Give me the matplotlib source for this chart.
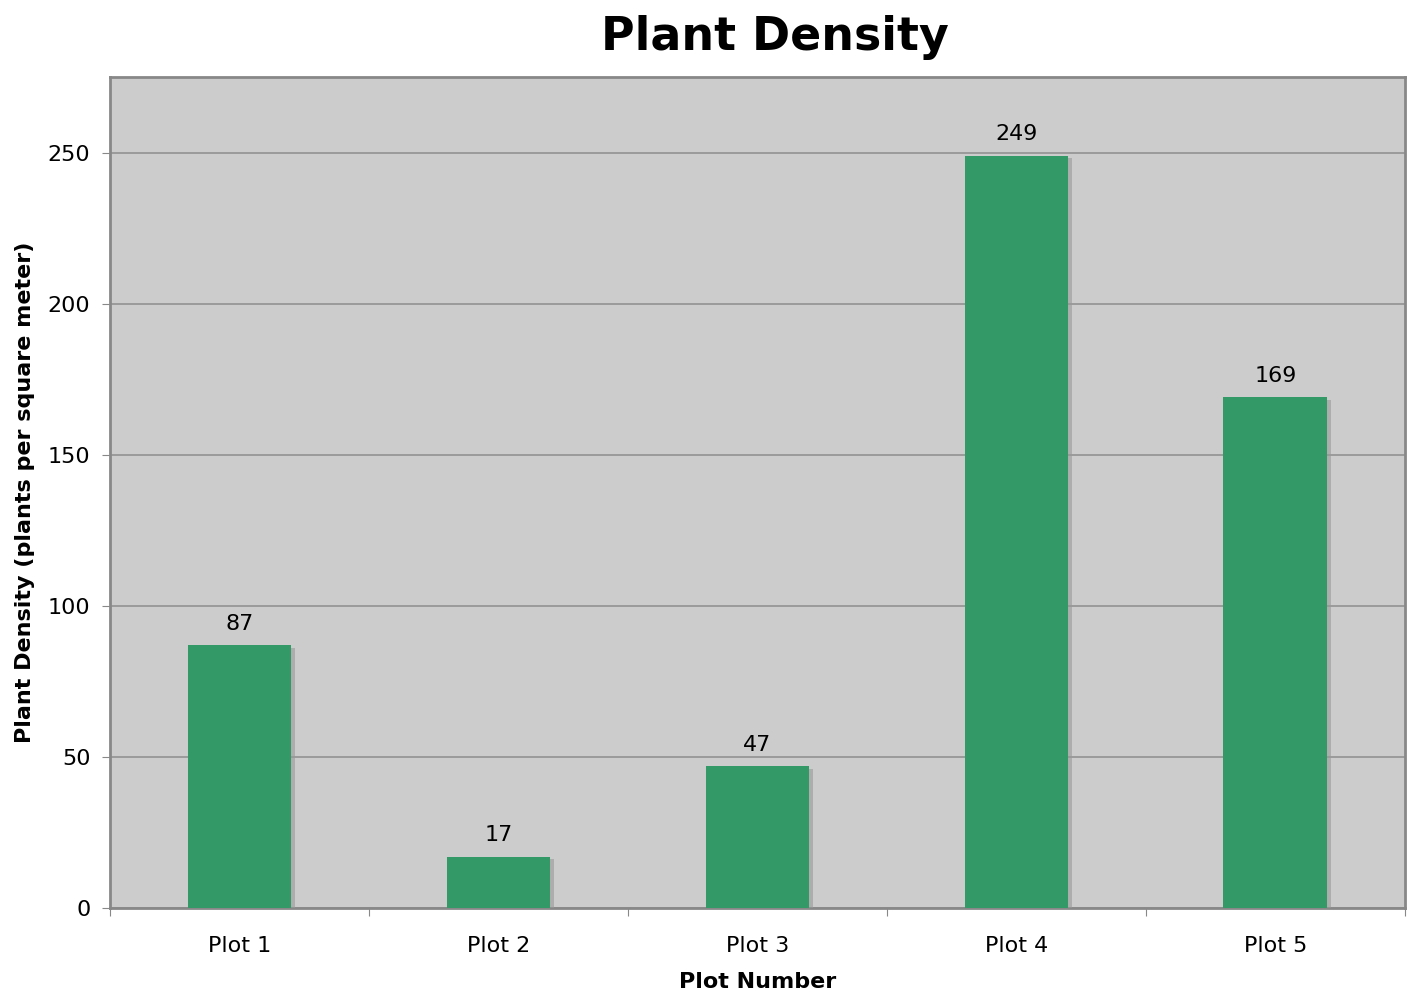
import numpy as np
import matplotlib.pyplot as plt
import matplotlib.patheffects as pe

# data
plots = ['Plot 1', 'Plot 2', 'Plot 3', 'Plot 4', 'Plot 5']
density = [87, 17, 47, 249, 169]
yticks = [0, 50, 100, 150, 200, 250]

fig = plt.figure(figsize=(14.09, 9.96), dpi=100)
ax = fig.add_axes([0.078, 0.0884, 0.919, 0.8343])
ax.set_facecolor('#cccccc')

x = np.arange(len(plots))
bars = ax.bar(x, density, width=0.4, color='#339966', zorder=3)
for b in bars:
    b.set_path_effects([pe.SimplePatchShadow(offset=(3, -2), shadow_rgbFace='#999999', alpha=0.6),
                        pe.Normal()])

for xi, v in zip(x, density):
    ax.annotate(str(v), (xi, v), xytext=(0, 8), textcoords='offset points',
                ha='center', va='bottom', fontsize=16)

ax.set_xlim(-0.5, len(plots) - 0.5)
ax.set_ylim(0, 275)
ax.set_yticks(yticks)
ax.yaxis.grid(True, color='#929292', linewidth=1.2, zorder=1)
ax.set_axisbelow(True)

# ticks at category boundaries, labels at centres
ax.set_xticks(np.arange(len(plots) + 1) - 0.5)
ax.set_xticklabels([])
ax.set_xticks(x, minor=True)
ax.set_xticklabels(plots, minor=True, fontsize=16)
ax.tick_params(axis='x', which='minor', length=0, pad=20)
ax.tick_params(axis='x', which='major', length=6, color='#888888')
ax.tick_params(axis='y', length=6, color='#888888', labelsize=16, pad=8)

for s in ax.spines.values():
    s.set_color('#888888')
    s.set_linewidth(2)

ax.set_xlabel('Plot Number', fontsize=16, fontweight='bold', labelpad=12)
ax.set_ylabel('Plant Density (plants per square meter)', fontsize=16, fontweight='bold', labelpad=9)
fig.suptitle('Plant Density', fontsize=33, fontweight='bold', x=0.55, y=0.985)

fig.savefig('out.png', dpi=100)
